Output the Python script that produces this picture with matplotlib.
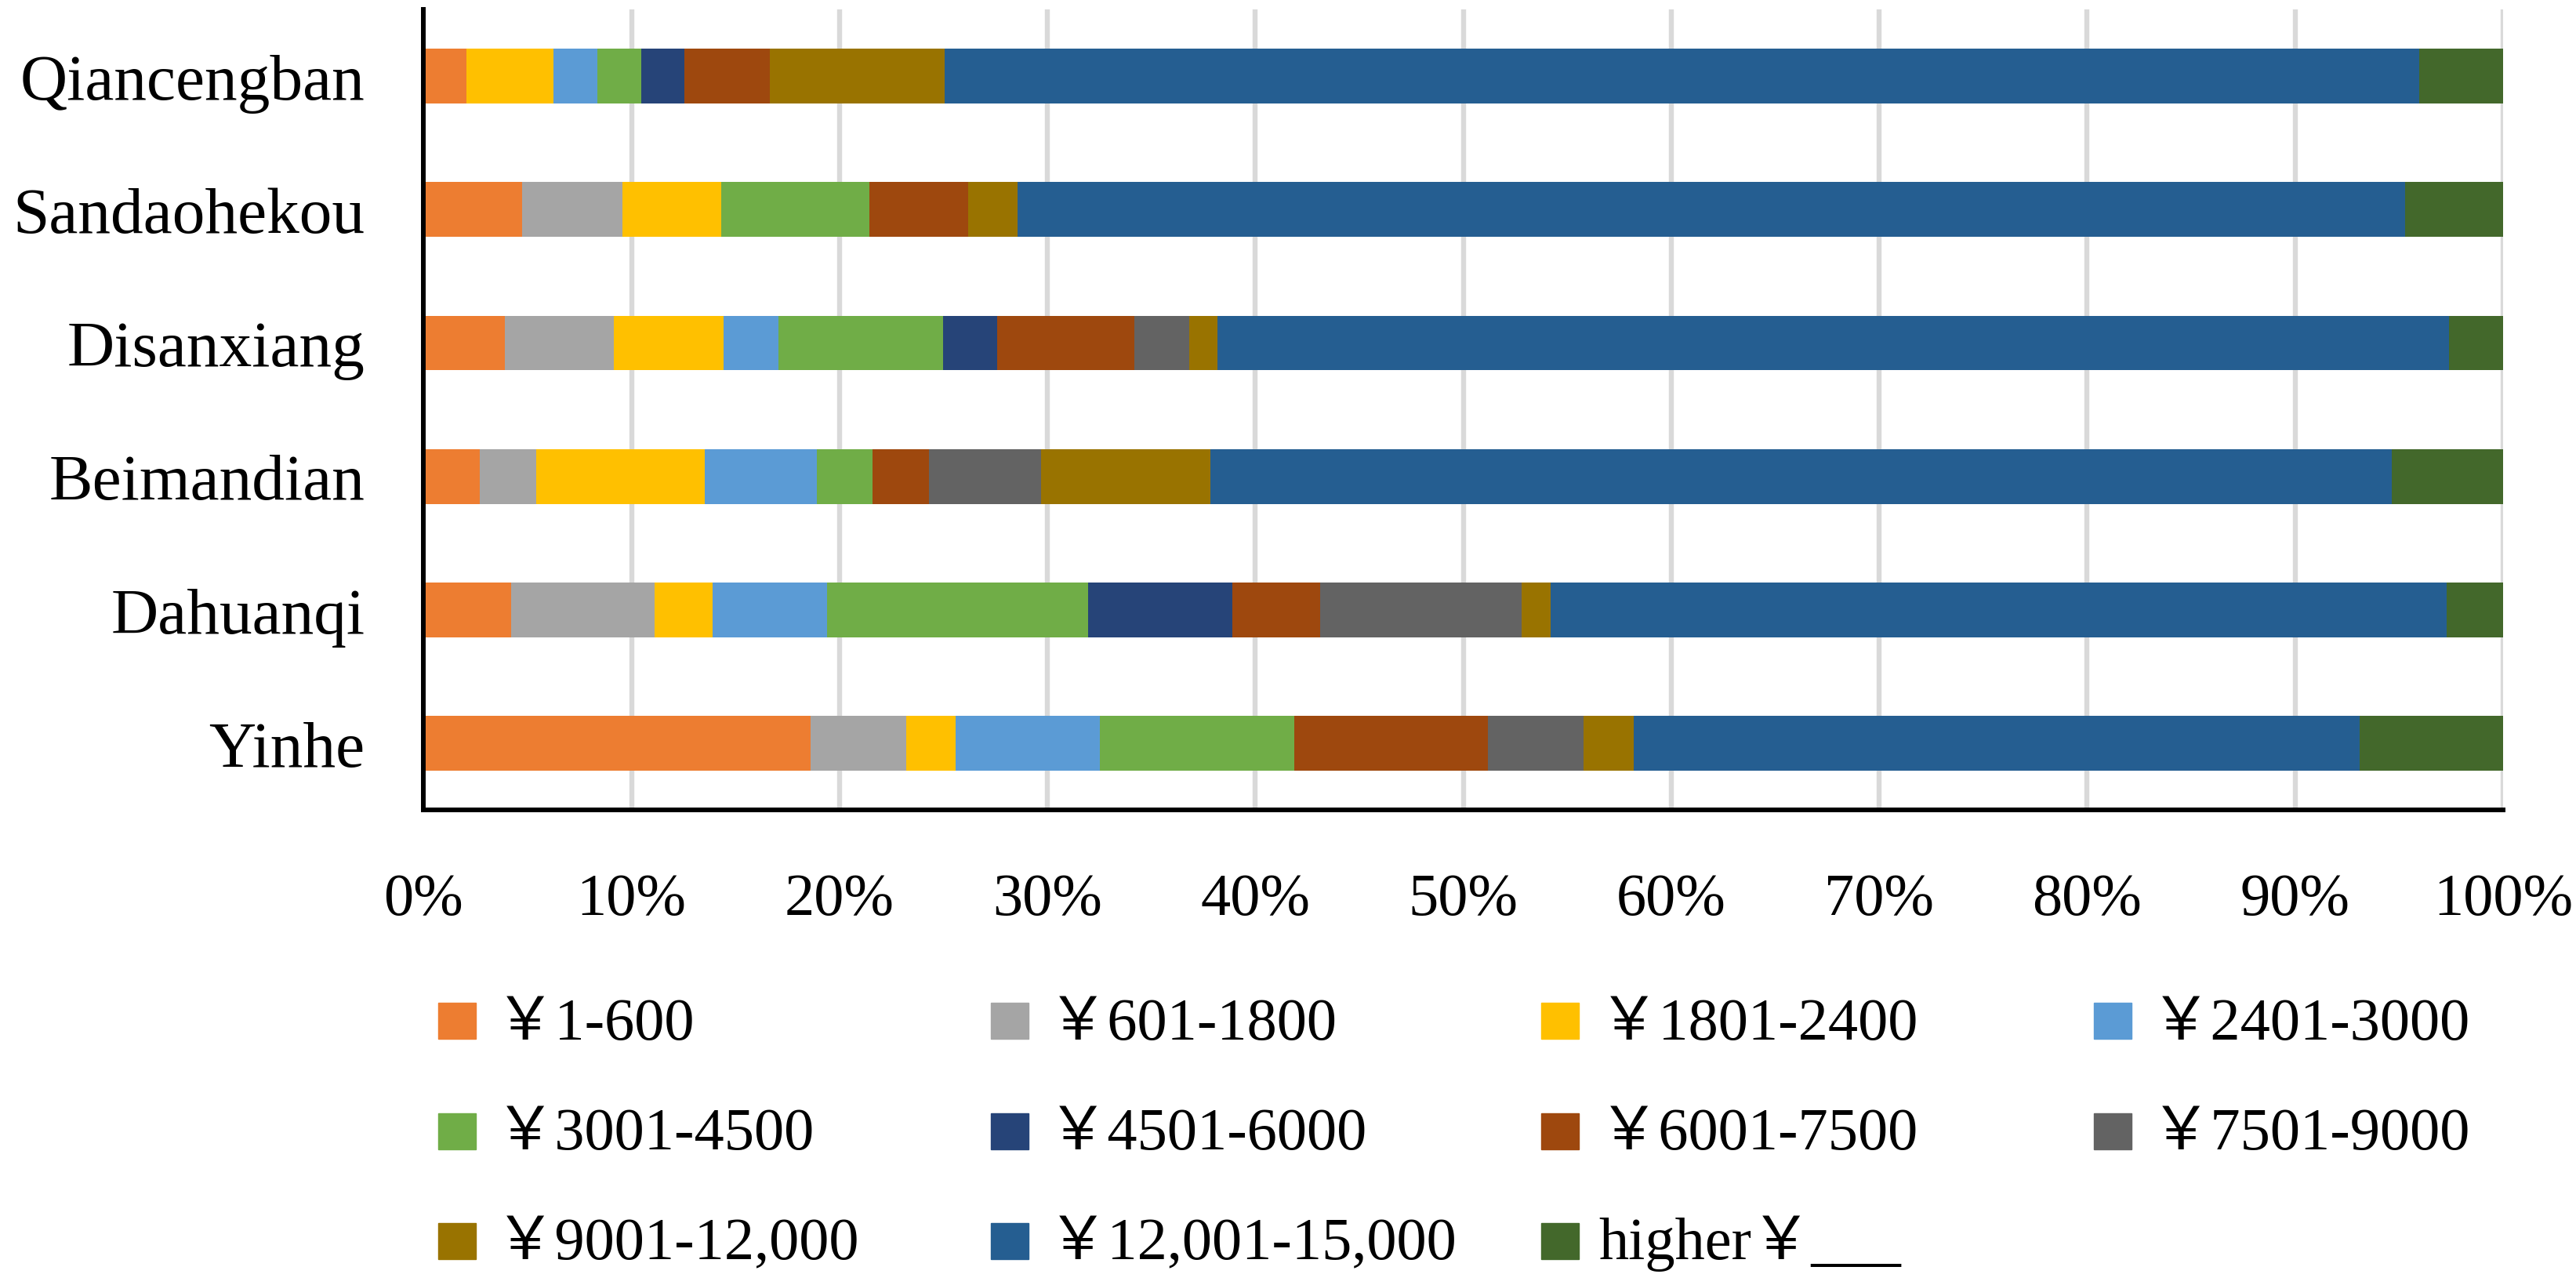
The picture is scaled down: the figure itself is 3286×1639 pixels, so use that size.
import matplotlib
matplotlib.use('Agg')
import matplotlib.pyplot as plt
from matplotlib.patches import Rectangle
import numpy as np

plt.rcParams['font.family'] = ['Liberation Serif', 'Noto Sans CJK SC']

# categories, bottom to top
towns = ['Yinhe', 'Dahuanqi', 'Beimandian', 'Disanxiang', 'Sandaohekou', 'Qiancengban']

labels = ['￥1-600', '￥601-1800', '￥1801-2400', '￥2401-3000', '￥3001-4500',
          '￥4501-6000', '￥6001-7500', '￥7501-9000', '￥9001-12,000',
          '￥12,001-15,000', 'higher￥___']

colors = ['#ED7D31', '#A5A5A5', '#FFC000', '#5B9BD5', '#70AD47', '#264478',
          '#9E480E', '#636363', '#997300', '#255E91', '#43682B']

# share (%) per income band, order follows towns
band_1_600 = [18.6, 4.2, 2.7, 3.9, 4.75, 2.05]
band_601_1800 = [4.6, 6.9, 2.7, 5.25, 4.8, 0]
band_1801_2400 = [2.35, 2.8, 8.1, 5.25, 4.75, 4.2]
band_2401_3000 = [6.95, 5.5, 5.4, 2.65, 0, 2.1]
band_3001_4500 = [9.35, 12.55, 2.7, 7.9, 7.15, 2.1]
band_4501_6000 = [0, 6.95, 0, 2.6, 0, 2.1]
band_6001_7500 = [9.3, 4.2, 2.7, 6.6, 4.75, 4.1]
band_7501_9000 = [4.6, 9.7, 5.4, 2.65, 0, 0]
band_9001_12000 = [2.4, 1.4, 8.15, 1.35, 2.35, 8.4]
band_12001_15000 = [34.9, 43.1, 56.8, 59.2, 66.75, 70.95]
band_higher = [6.9, 2.7, 5.35, 2.6, 4.7, 4.05]

bands = [band_1_600, band_601_1800, band_1801_2400, band_2401_3000, band_3001_4500,
         band_4501_6000, band_6001_7500, band_7501_9000, band_9001_12000,
         band_12001_15000, band_higher]

W, H = 3287, 1640
fig = plt.figure(figsize=(W / 100, H / 100), dpi=100)
ax = fig.add_axes([540.5 / W, 1 - 1034.4 / H, 2652.5 / W, 1021.7 / H])

data = np.array(bands, dtype=float)
data = data / data.sum(axis=0, keepdims=True)  # 100% stacked
y = np.arange(len(towns))
left = np.zeros(len(towns))
for vals, lab, col in zip(data, labels, colors):
    ax.barh(y, vals, left=left, height=0.41, color=col, label=lab, zorder=3)
    left += vals

ax.set_xlim(0, 1)
ax.set_ylim(-0.5, len(towns) - 0.5)
ax.set_xticks(np.arange(0, 1.01, 0.1))
ax.set_xticklabels([f'{int(round(v * 100))}%' for v in np.arange(0, 1.01, 0.1)])
ax.set_yticks(y)
ax.set_yticklabels(towns)
ax.tick_params(axis='x', length=0, pad=57, labelsize=55)
ax.tick_params(axis='y', length=0, pad=54, labelsize=60)
for v in np.arange(0.1, 1.01, 0.1):
    ax.axvline(v, color='#D9D9D9', lw=4.6, zorder=1)
for side in ['top', 'right']:
    ax.spines[side].set_visible(False)
for side in ['left', 'bottom']:
    ax.spines[side].set_linewidth(4.3)
    ax.spines[side].set_color('black')
    ax.spines[side].set_zorder(4)

# legend, 4 columns, filled row by row
col_x = [559, 1264, 1966.5, 2671]
row_base = [1326, 1466.5, 1606.5]
for i, (lab, col) in enumerate(zip(labels, colors)):
    r, c = divmod(i, 4)
    x0 = col_x[c]
    yb = row_base[r]
    fig.add_artist(Rectangle((x0 / W, 1 - yb / H), 48 / W, 46 / H,
                             transform=fig.transFigure, color=col))
    fig.text((x0 + 73) / W, 1 - yb / H, lab, fontsize=55, va='baseline', ha='left')

fig.savefig('out.png', dpi=100)
plt.close(fig)
